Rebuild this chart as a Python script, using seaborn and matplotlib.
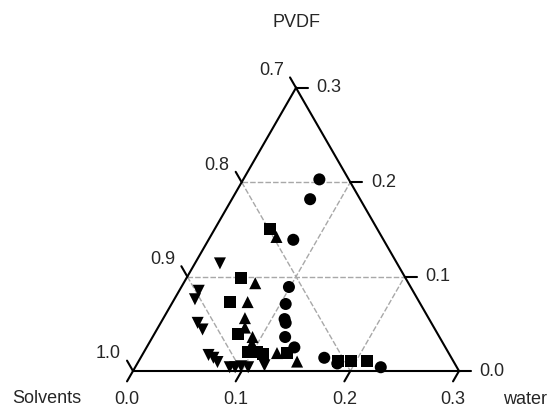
import numpy as np
import pandas as pd
import matplotlib
matplotlib.use("Agg")
import matplotlib.pyplot as plt
import seaborn as sns

sns.set_theme(style="white")
plt.rcParams["font.family"] = ["Liberation Sans", "DejaVu Sans"]

# ternary values (water and PVDF fractions, solvents = rest)
circle_water = [0.070, 0.072, 0.078, 0.099, 0.105, 0.112, 0.115, 0.122, 0.136, 0.169, 0.184, 0.226]
circle_pvdf = [0.203, 0.182, 0.139, 0.089, 0.071, 0.055, 0.051, 0.036, 0.025, 0.014, 0.008, 0.004]

square_water = [0.051, 0.050, 0.053, 0.077, 0.096, 0.104, 0.111, 0.132, 0.183, 0.195, 0.210]
square_pvdf = [0.150, 0.099, 0.073, 0.039, 0.020, 0.020, 0.018, 0.019, 0.011, 0.011, 0.011]

up_water = [0.061, 0.066, 0.069, 0.075, 0.080, 0.092, 0.095, 0.123, 0.146]
up_pvdf = [0.142, 0.093, 0.073, 0.056, 0.046, 0.036, 0.029, 0.019, 0.010]

down_water = [0.023, 0.018, 0.019, 0.034, 0.042, 0.061, 0.067, 0.073, 0.087, 0.092, 0.097, 0.104, 0.118]
down_pvdf = [0.114, 0.085, 0.076, 0.051, 0.044, 0.017, 0.014, 0.0095, 0.004, 0.004, 0.005, 0.004, 0.006]

tick_values = [0.0, 0.1, 0.2, 0.3]
solvent_labels = ["1.0", "0.9", "0.8", "0.7"]
pvdf_labels = ["0.0", "0.1", "0.2", "0.3"]
water_labels = ["0.0", "0.1", "0.2", "0.3"]

SIDE = 0.3
H = np.sqrt(3) / 2


def tern(water, pvdf):
    water = np.asarray(water, dtype=float)
    pvdf = np.asarray(pvdf, dtype=float)
    return water + pvdf / 2, pvdf * H


frames = []
for name, w, p in [("circle", circle_water, circle_pvdf),
                   ("square", square_water, square_pvdf),
                   ("up", up_water, up_pvdf),
                   ("down", down_water, down_pvdf)]:
    x, y = tern(w, p)
    frames.append(pd.DataFrame({"x": x, "y": y, "series": name}))
df = pd.concat(frames, ignore_index=True)

fig = plt.figure(figsize=(5.51, 4.08), dpi=100)
ax = fig.add_axes([0, 0, 1, 1])
ax.set_xlim(-133 / 1086.7, 418 / 1086.7)
ax.set_ylim(-37 / 1090, 371 / 1090)
ax.axis("off")

grid_kw = dict(color="#a8a8a8", lw=1.0, ls=(0, (4, 1.5)), zorder=1)
for v in [0.1, 0.2]:
    # constant PVDF
    xa, ya = tern([0, SIDE - v], [v, v])
    ax.plot(xa, ya, **grid_kw)
    # constant water
    xa, ya = tern([v, v], [0, SIDE - v])
    ax.plot(xa, ya, **grid_kw)
    # constant solvents
    xa, ya = tern([0, v], [v, 0])
    ax.plot(xa, ya, **grid_kw)

# triangle frame
xa, ya = tern([0, SIDE, 0, 0], [0, 0, SIDE, 0])
ax.plot(xa, ya, color="black", lw=1.5, zorder=2, solid_joinstyle="miter")

tl = 0.011
fs = 13
for v, lab in zip(tick_values, solvent_labels):
    # left side: solvents
    x0, y0 = tern(0, v)
    x1, y1 = x0 - 0.5 * tl, y0 + H * tl
    ax.plot([x0, x1], [y0, y1], color="black", lw=1.5)
    ax.text(x1 - 0.0055, y1 + 0.0062, lab, ha="right", va="center", fontsize=fs)
for v, lab in zip(tick_values, pvdf_labels):
    # right side: PVDF
    x0, y0 = tern(SIDE - v, v)
    x1, y1 = x0 + tl, y0
    ax.plot([x0, x1], [y0, y1], color="black", lw=1.5)
    ax.text(x1 + 0.008, y1, lab, ha="left", va="center", fontsize=fs)
for v, lab in zip(tick_values, water_labels):
    # bottom side: water
    x0, y0 = tern(v, 0)
    x1, y1 = x0 - 0.5 * tl, y0 - H * tl
    ax.plot([x0, x1], [y0, y1], color="black", lw=1.5)
    ax.text(x1, -0.0265, lab, ha="center", va="center", fontsize=fs)

sns.scatterplot(
    data=df, x="x", y="y", style="series",
    markers={"circle": "o", "square": "s", "up": "^", "down": "v"},
    color="black", s=75, edgecolor="none", legend=False, ax=ax, zorder=3,
)
ax.set_xlabel("")
ax.set_ylabel("")
ax.axis("off")

ax.text(0.15, 0.320, "PVDF", ha="center", va="center", fontsize=fs)
ax.text(-0.079, -0.0248, "Solvents", ha="center", va="center", fontsize=fs)
ax.text(0.3607, -0.0266, "water", ha="center", va="center", fontsize=fs)

fig.savefig("out.png", dpi=100)
